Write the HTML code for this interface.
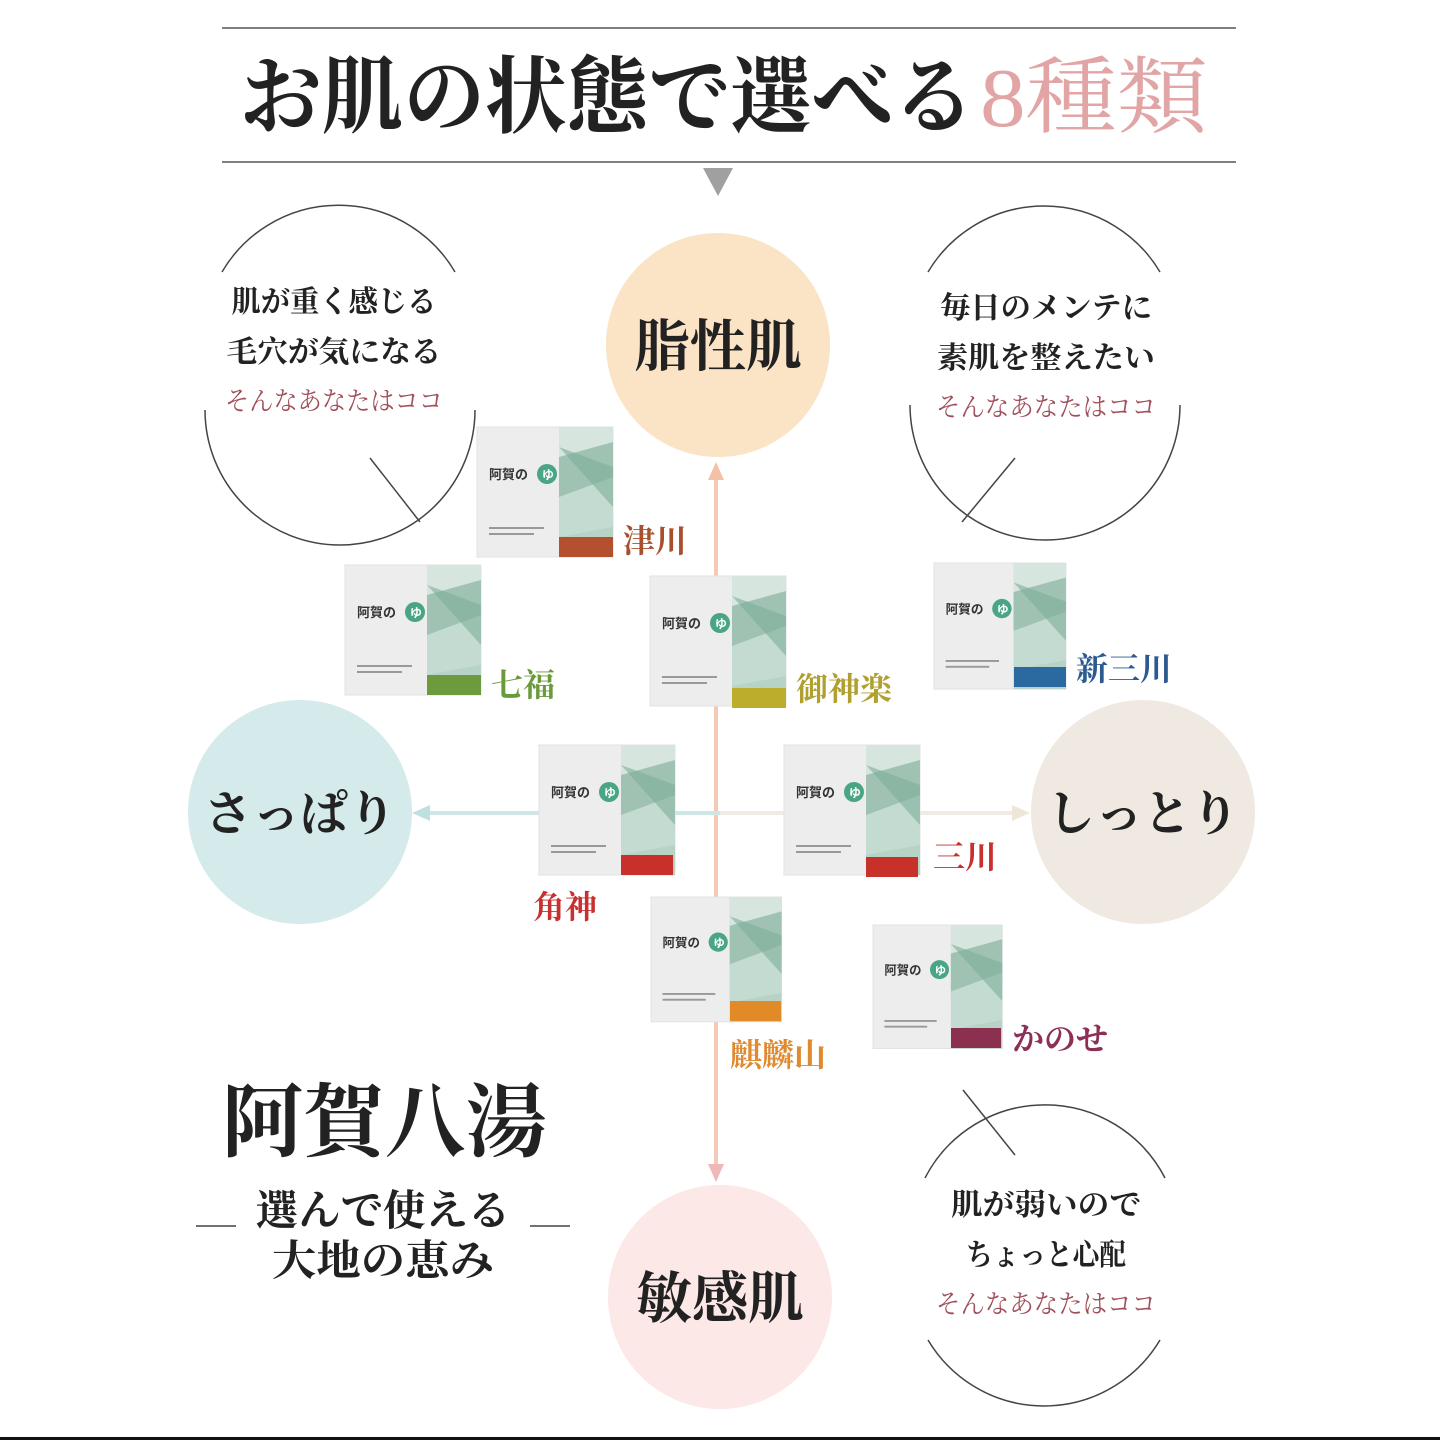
<!DOCTYPE html>
<html><head><meta charset="utf-8"><style>
html,body{margin:0;padding:0;background:#fff}
svg{display:block}
text{font-family:"Liberation Serif","Noto Serif CJK SC","Noto Sans CJK JP",serif}
.s{font-family:"Liberation Sans","Noto Sans CJK JP",sans-serif;font-weight:bold}
.b{font-weight:bold}
</style></head><body>
<svg width="1440" height="1440" viewBox="0 0 1440 1440" xmlns="http://www.w3.org/2000/svg">
<defs>
<g id="box">
 <rect x="0" y="0" width="136" height="130" fill="#ededed"/>
 <rect x="0" y="0" width="136" height="130" fill="none" stroke="#e2e2e2"/>
 <rect x="82" y="0" width="54" height="130" fill="#b7d3c6"/>
 <polygon points="82,0 136,0 136,20 82,45" fill="#d6e6df"/>
 <polygon points="82,30 136,15 136,60 82,75" fill="#9fc2b2"/>
 <polygon points="82,70 136,50 136,100 82,110" fill="#c3dbd0"/>
 <polygon points="82,20 136,40 136,80" fill="#7fae9a" opacity=".6"/>
 <text x="12" y="52" font-size="13" fill="#333" class="s">阿賀の</text>
 <circle cx="70" cy="47" r="10" fill="#4aa585"/>
 <text x="65" y="52" font-size="12" fill="#fff" class="s">ゆ</text>
 <rect x="12" y="100" width="55" height="2" fill="#999"/>
 <rect x="12" y="106" width="45" height="2" fill="#999"/>
</g>
</defs>
<rect width="1440" height="1440" fill="#fff"/>
<line x1="222" y1="28" x2="1236" y2="28" stroke="#555" stroke-width="1.5"/>
<line x1="222" y1="162" x2="1236" y2="162" stroke="#555" stroke-width="1.5"/>
<polygon points="703,168 733,168 718,196" fill="#a0a0a0"/>
<text x="240" y="126" font-size="84" fill="#222" class="b" textLength="735" lengthAdjust="spacingAndGlyphs">お肌の状態で選べる</text>
<text x="980" y="126" font-size="84" fill="#e2a5a6" textLength="228" lengthAdjust="spacingAndGlyphs">8種類</text>

<circle cx="718" cy="345" r="112" fill="#fbe3c6"/>
<circle cx="300" cy="812" r="112" fill="#d5eaeb"/>
<circle cx="1143" cy="812" r="112" fill="#efe9e2"/>
<circle cx="720" cy="1297" r="112" fill="#fce8e7"/>
<text x="718" y="366" font-size="56" fill="#222" text-anchor="middle" class="b">脂性肌</text>
<text x="300" y="830" font-size="48" fill="#222" text-anchor="middle" class="b">さっぱり</text>
<text x="1143" y="830" font-size="48" fill="#222" text-anchor="middle" class="b">しっとり</text>
<text x="720" y="1318" font-size="56" fill="#222" text-anchor="middle" class="b">敏感肌</text>

<line x1="716" y1="478" x2="716" y2="1168" stroke="#f4c9b8" stroke-width="4"/>
<polygon points="708,480 724,480 716,462" fill="#f3c2a6"/>
<polygon points="708,1164 724,1164 716,1182" fill="#f0b8b8"/>
<line x1="428" y1="813" x2="720" y2="813" stroke="#cfe6e6" stroke-width="4"/>
<line x1="720" y1="813" x2="1015" y2="813" stroke="#f0ebe4" stroke-width="4"/>
<polygon points="430,805 430,821 412,813" fill="#bfe0e0"/>
<polygon points="1012,805 1012,821 1030,813" fill="#efe6da"/>

<g fill="none" stroke="#444" stroke-width="1.5">
 <path d="M222,272 A135,135 0 0 1 455,272"/>
 <path d="M205,410 A135,135 0 0 0 475,410"/>
 <line x1="370" y1="458" x2="420" y2="522"/>
 <path d="M928,272 A135,135 0 0 1 1160,272"/>
 <path d="M910,405 A135,135 0 0 0 1180,405"/>
 <line x1="1015" y1="458" x2="962" y2="522"/>
 <path d="M925,1178 A135,135 0 0 1 1165,1178"/>
 <path d="M928,1340 A135,135 0 0 0 1160,1340"/>
 <line x1="963" y1="1090" x2="1015" y2="1155"/>
</g>
<g font-size="30" fill="#222" text-anchor="middle" class="b">
 <text x="334" y="312" textLength="205" lengthAdjust="spacingAndGlyphs">肌が重く感じる</text>
 <text x="334" y="362" textLength="215" lengthAdjust="spacingAndGlyphs">毛穴が気になる</text>
 <text x="1046" y="318" textLength="212" lengthAdjust="spacingAndGlyphs">毎日のメンテに</text>
 <text x="1046" y="368" textLength="218" lengthAdjust="spacingAndGlyphs">素肌を整えたい</text>
 <text x="1046" y="1215" textLength="190" lengthAdjust="spacingAndGlyphs">肌が弱いので</text>
 <text x="1046" y="1265" textLength="160" lengthAdjust="spacingAndGlyphs">ちょっと心配</text>
</g>
<g font-size="26" fill="#a0505a" text-anchor="middle">
 <text x="334" y="410" textLength="218" lengthAdjust="spacingAndGlyphs">そんなあなたはココ</text>
 <text x="1046" y="416" textLength="220" lengthAdjust="spacingAndGlyphs">そんなあなたはココ</text>
 <text x="1046" y="1313" textLength="220" lengthAdjust="spacingAndGlyphs">そんなあなたはココ</text>
</g>

<use href="#box" transform="translate(477,427)"/><rect x="559" y="537" width="54" height="20" fill="#b4502e"/>
<use href="#box" transform="translate(345,565)"/><rect x="427" y="675" width="54" height="20" fill="#6c9a3c"/>
<use href="#box" transform="translate(650,576)"/><rect x="732" y="688" width="54" height="20" fill="#bcad2c"/>
<use href="#box" transform="translate(934,563) scale(0.97)"/><rect x="1014" y="667" width="52" height="20" fill="#2a6aa0"/>
<use href="#box" transform="translate(539,745)"/><rect x="621" y="855" width="52" height="20" fill="#c8302a"/>
<use href="#box" transform="translate(784,745)"/><rect x="866" y="857" width="52" height="20" fill="#c8302a"/>
<use href="#box" transform="translate(651,897) scale(0.96)"/><rect x="730" y="1001" width="51" height="20" fill="#e08a28"/>
<use href="#box" transform="translate(873,925) scale(0.95)"/><rect x="951" y="1028" width="50" height="20" fill="#8c3050"/>

<g font-size="32" class="s">
 <text x="623" y="552" fill="#a8502e">津川</text>
 <text x="491" y="696" fill="#6a9a3a">七福</text>
 <text x="796" y="700" fill="#b0a030">御神楽</text>
 <text x="1076" y="680" fill="#2a5a90">新三川</text>
 <text x="533" y="918" fill="#c83030">角神</text>
 <text x="933" y="868" fill="#c83030">三川</text>
 <text x="730" y="1066" fill="#e08a30">麒麟山</text>
 <text x="1012" y="1050" fill="#8c3058">かのせ</text>
</g>

<text x="222" y="1150" font-size="80" fill="#222" class="b" textLength="325" lengthAdjust="spacingAndGlyphs">阿賀八湯</text>
<line x1="196" y1="1226" x2="236" y2="1226" stroke="#444" stroke-width="1.5"/>
<line x1="530" y1="1226" x2="570" y2="1226" stroke="#444" stroke-width="1.5"/>
<text x="383" y="1225" font-size="42" fill="#222" text-anchor="middle" class="b" textLength="255" lengthAdjust="spacingAndGlyphs">選んで使える</text>
<text x="383" y="1275" font-size="42" fill="#222" text-anchor="middle" class="b" textLength="222" lengthAdjust="spacingAndGlyphs">大地の恵み</text>

<rect x="0" y="1437" width="1440" height="3" fill="#111"/>
</svg>
</body></html>
